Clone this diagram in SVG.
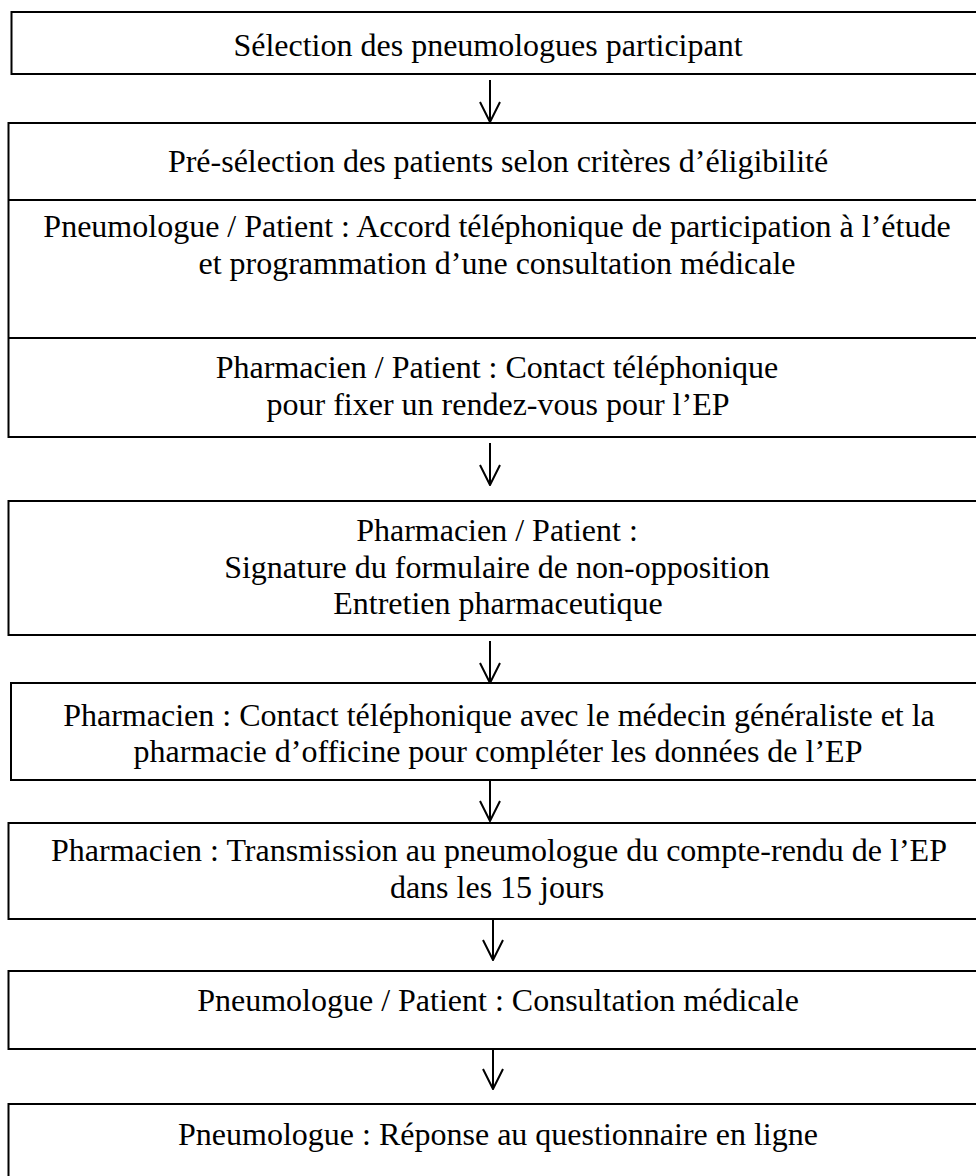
<svg xmlns="http://www.w3.org/2000/svg" width="976" height="1176" viewBox="0 0 976 1176">
  <style>
    .box { fill: #ffffff; stroke: #000000; stroke-width: 2; }
    .div { stroke: #000000; stroke-width: 2; }
    .t { font-family: "Liberation Serif", "Times New Roman", serif; font-size: 32px; fill: #000000; text-anchor: middle; }
    .arrow { stroke: #000000; stroke-width: 2; fill: none; marker-end: url(#head); }
  </style>
  <defs>
    <marker id="head" viewBox="0 0 22 22" refX="21" refY="11" markerWidth="22" markerHeight="22" markerUnits="userSpaceOnUse" orient="auto">
      <path d="M1,1 L21,11 L1,21" fill="none" stroke="#000000" stroke-width="2"/>
    </marker>
  </defs>
  <rect width="976" height="1176" fill="#ffffff"/>

  <g id="n1">
    <rect class="box" x="11.5" y="12" width="990" height="62"/>
    <text class="t" x="488" y="56">Sélection des pneumologues participant</text>
  </g>

  <g id="n2">
    <rect class="box" x="8.5" y="123" width="990" height="314"/>
    <line class="div" x1="8.5" y1="200" x2="990" y2="200"/>
    <line class="div" x1="8.5" y1="338" x2="990" y2="338"/>
    <text class="t" x="498" y="172">Pré-sélection des patients selon critères d’éligibilité</text>
    <text class="t" x="497" y="237">Pneumologue / Patient : Accord téléphonique de participation à l’étude</text>
    <text class="t" x="497" y="274">et programmation d’une consultation médicale</text>
    <text class="t" x="497" y="378">Pharmacien / Patient : Contact téléphonique</text>
    <text class="t" x="498" y="415">pour fixer un rendez-vous pour l’EP</text>
  </g>

  <g id="n3">
    <rect class="box" x="8.5" y="501" width="990" height="134"/>
    <text class="t" x="497" y="541">Pharmacien / Patient :</text>
    <text class="t" x="497" y="578">Signature du formulaire de non-opposition</text>
    <text class="t" x="498" y="614">Entretien pharmaceutique</text>
  </g>

  <g id="n4">
    <rect class="box" x="11" y="683" width="990" height="97"/>
    <text class="t" x="499" y="726">Pharmacien : Contact téléphonique avec le médecin généraliste et la</text>
    <text class="t" x="498" y="762">pharmacie d’officine pour compléter les données de l’EP</text>
  </g>

  <g id="n5">
    <rect class="box" x="8.5" y="823" width="990" height="96"/>
    <text class="t" x="499" y="861">Pharmacien : Transmission au pneumologue du compte-rendu de l’EP</text>
    <text class="t" x="497" y="898">dans les 15 jours</text>
  </g>

  <g id="n6">
    <rect class="box" x="8.5" y="971" width="990" height="78"/>
    <text class="t" x="498" y="1011">Pneumologue / Patient : Consultation médicale</text>
  </g>

  <g id="n7">
    <rect class="box" x="8.5" y="1104" width="990" height="100"/>
    <text class="t" x="498" y="1145">Pneumologue : Réponse au questionnaire en ligne</text>
  </g>

  <g id="connectors">
    <line class="arrow" x1="490" y1="80" x2="490" y2="122"/>
    <line class="arrow" x1="490" y1="443" x2="490" y2="485"/>
    <line class="arrow" x1="490" y1="641" x2="490" y2="683"/>
    <line class="arrow" x1="490" y1="780" x2="490" y2="821"/>
    <line class="arrow" x1="493" y1="920" x2="493" y2="960"/>
    <line class="arrow" x1="493" y1="1049" x2="493" y2="1089"/>
  </g>
</svg>
